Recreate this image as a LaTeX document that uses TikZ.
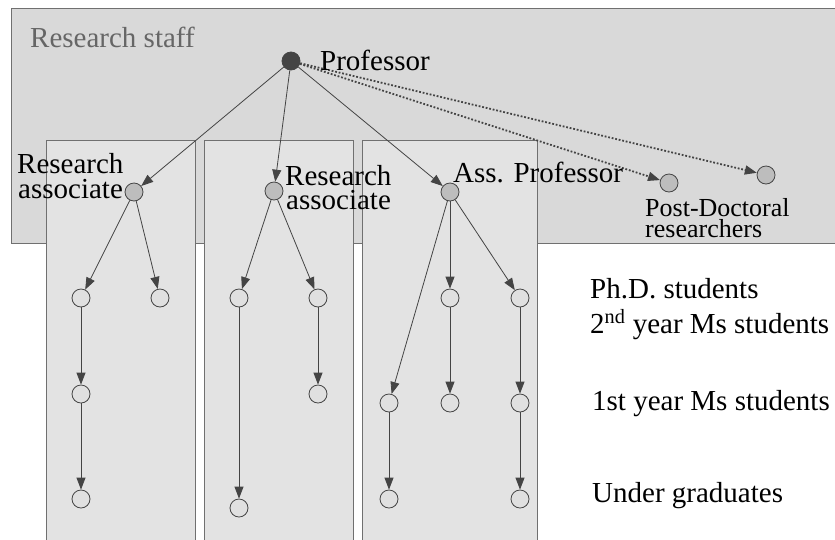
\documentclass[tikz,border=0pt]{standalone}
\usepackage{fontspec}
\setmainfont{Liberation Serif}
\usetikzlibrary{arrows.meta}
\definecolor{staffbg}{HTML}{D9D9D9}
\definecolor{panelbg}{HTML}{E3E3E3}
\definecolor{boxline}{HTML}{707070}
\definecolor{edgecol}{HTML}{444444}
\definecolor{staffnode}{HTML}{BDBDBD}
\definecolor{studnode}{HTML}{E0E0E0}
\definecolor{titlegray}{HTML}{666666}
\tikzset{
  bigbox/.style={fill=staffbg, draw=boxline, line width=1pt},
  panelbox/.style={fill=panelbg, draw=boxline, line width=1pt},
  pnode/.style={circle, minimum size=18pt, inner sep=0pt, fill=edgecol, draw=edgecol, line width=0.8pt},
  snode/.style={circle, minimum size=18pt, inner sep=0pt, fill=staffnode, draw=edgecol, line width=0.8pt},
  unode/.style={circle, minimum size=18pt, inner sep=0pt, fill=studnode, draw=edgecol, line width=0.8pt},
  edge/.style={draw=edgecol, line width=0.8pt, -{Triangle[length=12pt,width=9pt]}},
  dotedge/.style={draw=edgecol, line width=1.8pt, dash pattern=on 1.8pt off 1.8pt, -{Triangle[length=12pt,width=9pt]}},
  lab/.style={anchor=base west, inner sep=0pt, text=black, font=\fontsize{29}{29}\selectfont},
  smalllab/.style={anchor=base west, inner sep=0pt, text=black, font=\fontsize{26}{26}\selectfont},
}
\begin{document}
\begin{tikzpicture}[x=1pt, y=-1pt]
\useasboundingbox (0,0) rectangle (835,539);
\fill[white] (0,0) rectangle (835,539);
% boxes
\draw[bigbox] (11,8) rectangle (845,243);
\draw[panelbox] (46,140) rectangle (195,545);
\draw[panelbox] (204,140) rectangle (353,545);
\draw[panelbox] (362,140) rectangle (537,545);
% staff nodes
\node[pnode] (prof) at (291,61) {};
\node[snode] (ra1) at (134,192) {};
\node[snode] (ra2) at (274,191) {};
\node[snode] (ap) at (450,192) {};
\node[snode] (pd1) at (669,183) {};
\node[snode] (pd2) at (766,175) {};
% student nodes panel 1
\node[unode] (a1) at (81,298) {};
\node[unode] (a2) at (160,298) {};
\node[unode] (a3) at (81,394) {};
\node[unode] (a4) at (81,499) {};
% panel 2
\node[unode] (b1) at (239,298) {};
\node[unode] (b2) at (318,298) {};
\node[unode] (b3) at (318,394) {};
\node[unode] (b4) at (239,508) {};
% panel 3
\node[unode] (c1) at (450,298) {};
\node[unode] (c2) at (520,298) {};
\node[unode] (c3) at (389,403) {};
\node[unode] (c4) at (450,403) {};
\node[unode] (c5) at (520,403) {};
\node[unode] (c6) at (389,499) {};
\node[unode] (c7) at (520,499) {};
% edges
\draw[edge] (prof) -- (ra1);
\draw[edge] (prof) -- (ra2);
\draw[edge] (prof) -- (ap);
\draw[dotedge] (prof) -- (pd1);
\draw[dotedge] (prof) -- (pd2);
\draw[edge] (ra1) -- (a1);
\draw[edge] (ra1) -- (a2);
\draw[edge] (a1) -- (a3);
\draw[edge] (a3) -- (a4);
\draw[edge] (ra2) -- (b1);
\draw[edge] (ra2) -- (b2);
\draw[edge] (b2) -- (b3);
\draw[edge] (b1) -- (b4);
\draw[edge] (ap) -- (c3);
\draw[edge] (ap) -- (c1);
\draw[edge] (ap) -- (c2);
\draw[edge] (c1) -- (c4);
\draw[edge] (c2) -- (c5);
\draw[edge] (c5) -- (c7);
\draw[edge] (c3) -- (c6);
% labels
\node[lab, text=titlegray] (tstaff) at (30,47) {Research staff};
\node[lab] (tprof) at (320,70) {Professor};
\node[lab] (tra1a) at (17,173) {Research};
\node[lab] (tra1b) at (18,198) {associate};
\node[lab] (tra2a) at (285,185) {Research};
\node[lab] (tra2b) at (286,209) {associate};
\node[lab] (tap) at (453,182) {Ass. Professor};
\node[smalllab] (tpd1) at (645,216) {Post-Doctoral};
\node[smalllab] (tpd2) at (645,237) {researchers};
\node[lab] (tphd) at (590,298) {Ph.D. students};
\node[lab] (tms2) at (590,333) {2\textsuperscript{nd} year Ms students};
\node[lab] (tms1) at (592,410) {1st year Ms students};
\node[lab] (tug) at (592,502) {Under graduates};
\end{tikzpicture}
\end{document}
